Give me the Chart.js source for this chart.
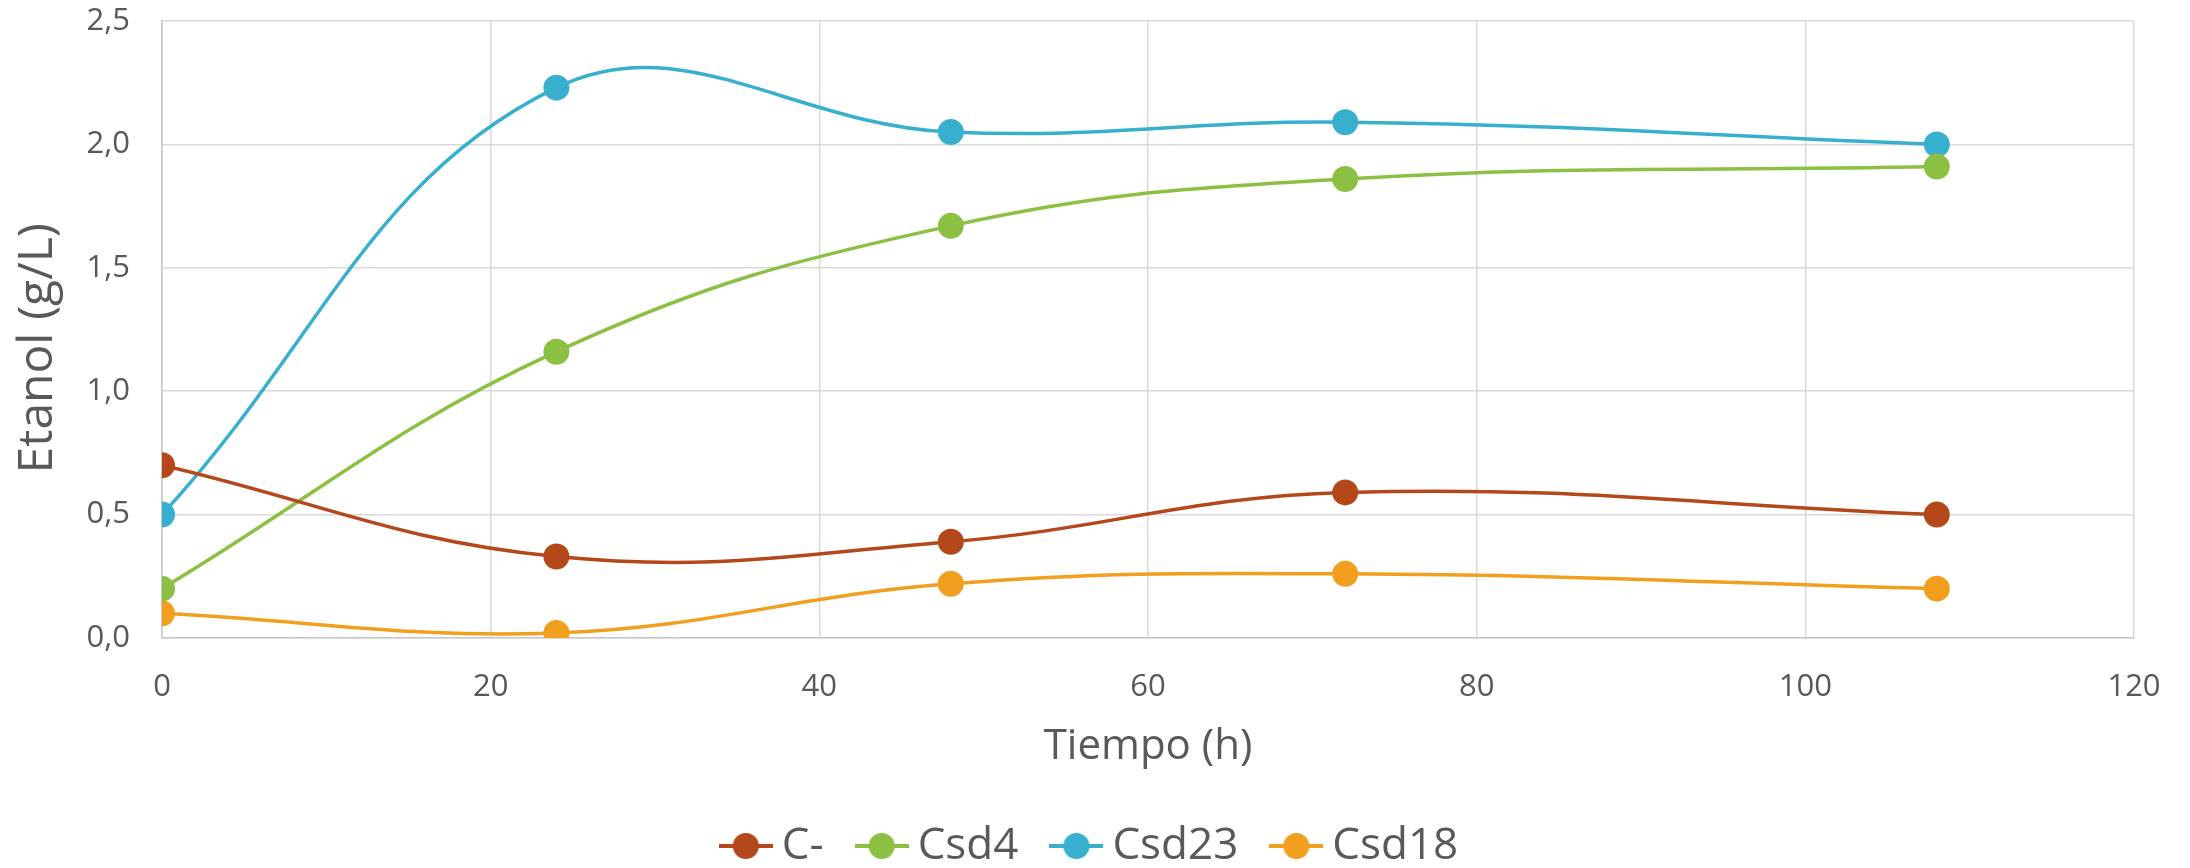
<!DOCTYPE html>
<html>
<head>
<meta charset="utf-8">
<script src="https://cdn.jsdelivr.net/npm/chart.js@4.4.0/dist/chart.umd.min.js"></script>
<style>
  html, body { margin: 0; padding: 0; background: #ffffff; }
  #contenedor { width: 2190px; height: 868px; }
</style>
</head>
<body>
<div id="contenedor"><canvas id="graficaEtanol"></canvas></div>
<script>
// Tiempos de muestreo (h)
const tiempos = [0, 24, 48, 72, 108];
// Etanol (g/L) por cepa
const cMenos = [0.70, 0.33, 0.39, 0.59, 0.50];
const csd4 = [0.20, 1.16, 1.67, 1.86, 1.91];
const csd23 = [0.50, 2.23, 2.05, 2.09, 2.00];
const csd18 = [0.10, 0.02, 0.22, 0.26, 0.20];
const nombres = ["C-", "Csd4", "Csd23", "Csd18"];
const colores = ["#B5481A", "#8CC043", "#38AFCF", "#F29E1E"];
// Ejes
const ejeX = { min: 0, max: 120, paso: 20 };
const ejeY = { min: 0, max: 2.5, paso: 0.5 };

const gris = "#595959";
const fuente = "'Open Sans', 'Liberation Sans', sans-serif";

// Icono de la leyenda: linea con el marcador en el centro
function iconoLeyenda(color) {
    const c = document.createElement("canvas");
    c.width = 54;
    c.height = 28;
    const ctx = c.getContext("2d");
    ctx.strokeStyle = color;
    ctx.lineWidth = 4;
    ctx.beginPath();
    ctx.moveTo(0, 14);
    ctx.lineTo(54, 14);
    ctx.stroke();
    ctx.fillStyle = color;
    ctx.beginPath();
    ctx.arc(27, 14, 13, 0, 2 * Math.PI);
    ctx.fill();
    return c;
}

const series = [cMenos, csd4, csd23, csd18];
const datasets = series.map(function (valores, i) {
    return {
        label: nombres[i],
        data: tiempos.map(function (t, j) { return { x: t, y: valores[j] }; }),
        borderColor: colores[i],
        backgroundColor: colores[i],
        borderWidth: 3.5,
        pointRadius: 13,
        pointHoverRadius: 13,
        pointBorderWidth: 0,
        tension: 0.4,
        fill: false
    };
});

const $grafica = document.querySelector("#graficaEtanol");
new Chart($grafica, {
    type: "line",
    data: { datasets: datasets },
    options: {
        responsive: true,
        maintainAspectRatio: false,
        animation: false,
        layout: { padding: { left: 0, right: 0, top: 21, bottom: -10 } },
        plugins: {
            tooltip: { enabled: false },
            legend: {
                position: "bottom",
                labels: {
                    usePointStyle: true,
                    pointStyleWidth: 28,
                    padding: 44,
                    color: gris,
                    font: { family: fuente, size: 44 },
                    generateLabels: function (chart) {
                        const items = Chart.defaults.plugins.legend.labels.generateLabels(chart);
                        items.forEach(function (it, i) { it.pointStyle = iconoLeyenda(colores[i]); });
                        return items;
                    }
                }
            }
        },
        scales: {
            x: {
                type: "linear",
                min: ejeX.min,
                max: ejeX.max,
                afterFit: function (scale) { scale.height = 142; },
                ticks: {
                    stepSize: ejeX.paso,
                    padding: 0,
                    color: gris,
                    font: { family: fuente, size: 31 }
                },
                // marcas invisibles: solo separan las etiquetas del eje
                grid: { color: "#D9D9D9", lineWidth: 1.5, drawTicks: true, tickLength: 31, tickColor: "rgba(0,0,0,0)" },
                border: { color: "#C8C8C8", width: 1.5 },
                title: {
                    display: true,
                    text: "Tiempo (h)",
                    color: gris,
                    font: { family: fuente, size: 42 },
                    padding: { top: 0, bottom: 8 }
                }
            },
            y: {
                min: ejeY.min,
                max: ejeY.max,
                afterFit: function (scale) { scale.width = 162; },
                ticks: {
                    stepSize: ejeY.paso,
                    padding: 0,
                    color: gris,
                    font: { family: fuente, size: 31 },
                    callback: function (v) { return v.toFixed(1).replace(".", ","); }
                },
                grid: { color: "#D9D9D9", lineWidth: 1.5, drawTicks: true, tickLength: 32, tickColor: "rgba(0,0,0,0)" },
                border: { color: "#C8C8C8", width: 1.5 },
                title: {
                    display: true,
                    // espacios al final para bajar un poco el titulo
                    text: "Etanol (g/L)   ",
                    color: gris,
                    font: { family: fuente, size: 48 },
                    padding: { top: 10, bottom: 0 }
                }
            },
            // eje vacio a la derecha, solo deja el margen
            margenDer: {
                position: "right",
                min: 0,
                max: 1,
                afterFit: function (scale) { scale.width = 56; },
                ticks: { display: false },
                grid: { display: false },
                border: { display: false }
            }
        }
    }
});
</script>
</body>
</html>
